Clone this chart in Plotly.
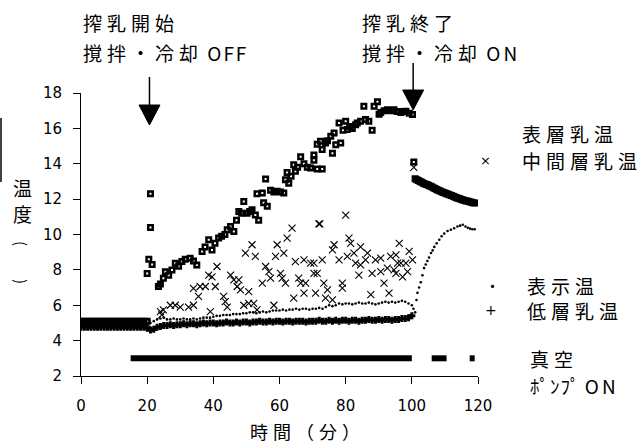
import plotly.graph_objects as go

# ---------------- data ----------------
# 表層乳温 (surface layer milk temperature)
surf_t = [0, 1, 2, 3, 4, 5, 6, 7, 8, 9, 10, 11, 12, 13, 14, 15, 16, 17, 18, 19, 20,
          20, 20.5, 21, 21, 21.5,
          23.4, 24, 24.9, 25.5, 26.5, 27.5, 28.5, 29.5, 30.5, 31.5, 33, 34, 35, 36.6, 37.5,
          38.6, 39.6, 40.5, 41.6, 42.5, 43.5, 44.2, 45.2, 46.2, 47, 47.7, 48.5, 49.2, 50.2,
          51, 51.7, 52.7, 53.7, 53.2, 54.8, 55.2, 55.8, 56.3, 57.3, 58.3, 59.3, 60.3, 61.3,
          61.8, 62.3, 62.8, 63.5, 64.3, 64.8, 65.5, 66.4, 67.4, 68.4, 69.4, 70.4, 70.4, 71.4,
          71.4, 72.4, 72.9, 72.9, 73.9, 74.5, 75.5, 76, 76.5, 77, 78, 78.5, 79.2, 80, 80.5,
          81.2, 82, 83, 83.5, 84.5, 85.5, 86, 87, 88, 88.6, 89.6, 90.1, 90.6, 91.6, 92.6,
          93.6, 94.6, 95.6, 96.7, 97.5, 98.2, 99.2, 100.2,
          100.6, 101, 101.5, 102, 102.5, 103, 103.5, 104, 104.5, 105, 105.5, 106, 106.5,
          107, 107.5, 108, 108.5, 109, 109.5, 110, 110.5, 111, 111.5, 112, 112.5, 113,
          113.5, 114, 114.5, 115, 115.5, 116, 116.5, 117, 117.5, 118, 118.5, 119]
surf_v = [5.1, 5.1, 5.1, 5.1, 5.1, 5.1, 5.1, 5.1, 5.1, 5.1, 5.1, 5.1, 5.1, 5.1, 5.1, 5.1, 5.1, 5.1, 5.1, 5.1, 5.1,
          7.8, 8.6, 10.4, 12.3, 8.3,
          7.06, 7.2, 7.53, 7.9, 7.7, 8.0, 8.38, 8.2, 8.47, 8.6, 8.66, 8.5, 8.28, 9.04, 9.3,
          9.7, 9.13, 9.5, 9.8, 9.9, 10.0, 10.27, 10.45, 10.17, 10.8, 11.3, 11.2, 11.87, 11.2,
          11.3, 11.4, 11.1, 10.8, 12.3, 12.35, 11.8, 13.14, 11.6, 12.5, 12.4, 12.44, 12.4, 12.35,
          13.1, 13.5, 12.9, 13.3, 13.95, 13.57, 13.8, 14.4, 14.0, 13.8, 13.76, 14.2, 14.5, 13.7,
          15.1, 15.27, 13.7, 14.8, 15.17, 15.3, 15.55, 14.6, 15.74, 15.08, 16.3, 15.17, 15.9, 16.4, 15.93,
          16.1, 16.0, 16.2, 16.3, 16.4, 17.25, 16.5, 16.4, 15.9, 17.25, 17.5, 16.8, 16.9, 17.0, 17.06,
          17.0, 17.06, 16.95, 16.9, 16.95, 16.97, 16.85, 16.78,
          14.1, 13.15, 13.1, 13.05, 13.0, 12.95, 12.9, 12.85, 12.82, 12.78, 12.74, 12.7, 12.65,
          12.6, 12.55, 12.5, 12.46, 12.42, 12.38, 12.35, 12.31, 12.28, 12.24, 12.2, 12.16, 12.12,
          12.08, 12.05, 12.02, 11.98, 11.95, 11.92, 11.9, 11.88, 11.85, 11.82, 11.8, 11.78]

# 中間層乳温 (middle layer milk temperature)
mid_t = [0, 1, 2, 3, 4, 5, 6, 7, 8, 9, 10, 11, 12, 13, 14, 15, 16, 17, 18, 19, 20,
         24, 24.4, 24.9, 27, 28.5, 30, 32.5, 34, 34, 35.5, 36, 37.6, 38.6, 39.6, 41.1, 40.6,
         43.1, 43.6, 44.2, 39.1, 45.2, 46.2, 47.7, 47.2, 48.2, 49.7, 50.7, 51.7, 52.7, 49.2,
         50.7, 52.2, 53.2, 54.8, 55.8, 56.8, 57.3, 59.3, 58.8, 60.3, 60.8, 61.3, 62.3, 61.8,
         58.3, 63.8, 64.8, 67.4, 69.4, 70.4, 72.9, 72.2, 70.4, 71.4, 65.8, 66.4, 67.9, 64.3,
         67.4, 70.9, 73.4, 74.5, 73.9, 76, 76.5, 76, 78, 79, 79, 80, 81, 81.5, 80.5, 82.5,
         84.5, 83, 84.5, 86, 86.6, 84, 87.6, 89, 90.6, 90.6, 88, 91.6, 92.6, 93.1, 93.6,
         95.2, 94.6, 96.2, 96.7, 97.2, 98.2, 98.7, 99.2, 100.2, 95.7, 95.2, 71.9, 100.6]
mid_v = [4.95, 4.95, 4.95, 4.95, 4.95, 4.95, 4.95, 4.95, 4.95, 4.95, 4.95, 4.95, 4.95, 4.95, 4.95, 4.95, 4.95, 4.95, 4.95, 4.95, 4.95,
         5.64, 5.45, 5.74, 6.0, 6.0, 5.9, 5.9, 6.0, 6.96, 6.5, 7.06, 7.06, 7.7, 7.6, 8.19, 7.06,
         6.5, 6.2, 5.9, 5.64, 7.7, 7.43, 7.43, 7.06, 6.87, 8.95, 6.77, 9.42, 8.76, 6.0,
         6.1, 6.1, 5.74, 7.25, 8.19, 7.9, 7.53, 9.42, 8.76, 7.8, 7.53, 8.95, 9.8, 7.25,
         6.0, 10.36, 8.47, 8.57, 8.38, 8.38, 8.57, 10.6, 7.8, 7.8, 7.53, 7.25, 7.25, 6.4,
         6.68, 6.68, 7.25, 6.87, 6.4, 6.3, 9.42, 9.13, 8.57, 7.25, 6.97, 11.1, 9.8, 9.5, 8.76, 8.95,
         9.3, 8.38, 8.28, 8.57, 8.95, 7.7, 6.6, 8.57, 8.66, 7.9, 7.8, 7.25, 8.1, 6.68, 8.76,
         8.85, 8.0, 9.5, 8.38, 7.6, 8.38, 7.9, 9.04, 8.57, 8.38, 7.8, 10.6, 13.8]

# 表示温 (displayed temperature)
disp_t = [0, 1, 2, 3, 4, 5, 6, 7, 8, 9, 10, 11, 12, 13, 14, 15, 16, 17, 18, 19,
          20, 21, 22, 23, 24, 25, 26, 27, 28, 29, 30, 31, 32, 33, 34, 35, 36, 37, 38, 39,
          40, 41, 42, 43, 44, 45, 46, 47, 48, 49, 50, 51, 52, 53, 54, 55, 56, 57, 58, 59,
          60, 61, 62, 63, 64, 65, 66, 67, 68, 69, 70, 71, 72, 73, 74, 75, 76, 77, 78, 79,
          80, 81, 82, 83, 84, 85, 86, 87, 88, 89, 90, 91, 92, 93, 94, 95, 96, 97, 98, 99,
          100, 100.5, 101, 101.4, 101.7, 102.2, 102.7, 103.2, 103.7, 104.2, 104.7, 105.2, 105.8,
          106.3, 106.8, 107.5, 108.3, 109, 109.8, 110.8, 111.8, 112.8, 113.8, 114.6, 115.4,
          116.2, 116.9, 117.6, 118.3, 119]
disp_v = [5.0, 5.0, 5.0, 5.0, 5.0, 5.0, 5.0, 5.0, 5.0, 5.0, 5.0, 5.0, 5.0, 5.0, 5.0, 5.0, 5.0, 5.0, 5.0, 5.0,
          5.0, 5.0, 5.1, 5.2, 5.25, 5.3, 5.2, 5.2, 5.25, 5.2, 5.2, 5.25, 5.2, 5.2, 5.25, 5.2, 5.25, 5.3, 5.3, 5.3,
          5.35, 5.4, 5.4, 5.45, 5.45, 5.45, 5.5, 5.5, 5.5, 5.55, 5.55, 5.6, 5.6, 5.55, 5.6, 5.65, 5.6, 5.65, 5.7, 5.7,
          5.7, 5.75, 5.7, 5.75, 5.75, 5.8, 5.75, 5.8, 5.8, 5.75, 5.8, 5.8, 5.85, 5.8, 5.9, 6.0, 5.95, 6.0, 6.1, 6.05,
          6.1, 6.1, 6.05, 6.1, 6.15, 6.1, 6.1, 6.15, 6.1, 6.05, 6.1, 6.15, 6.2, 6.15, 6.2, 6.15, 6.2, 6.25, 6.2, 6.1,
          6.0, 5.8, 5.6, 6.3, 6.7, 7.0, 7.3, 7.7, 8.1, 8.3, 8.5, 8.7, 8.95,
          9.1, 9.3, 9.5, 9.7, 9.9, 10.05, 10.2, 10.27, 10.35, 10.45, 10.5, 10.55,
          10.45, 10.38, 10.33, 10.3, 10.3]

# 低層乳温 (low layer milk temperature)
low_t = [0, 1, 2, 3, 4, 5, 6, 7, 8, 9, 10, 11, 12, 13, 14, 15, 16, 17, 18, 19,
         20, 21, 22, 23, 24, 25, 26, 27, 28, 29, 30, 31, 32, 33, 34, 35, 36, 37, 38, 39,
         40, 41, 42, 43, 44, 45, 46, 47, 48, 49, 50, 51, 52, 53, 54, 55, 56, 57, 58, 59,
         60, 61, 62, 63, 64, 65, 66, 67, 68, 69, 70, 71, 72, 73, 74, 75, 76, 77, 78, 79,
         80, 81, 82, 83, 84, 85, 86, 87, 88, 89, 90, 91, 92, 93, 94, 95, 96, 97, 98, 99, 100]
low_v = [4.75, 4.75, 4.75, 4.75, 4.75, 4.75, 4.75, 4.75, 4.75, 4.75, 4.75, 4.75, 4.75, 4.75, 4.75, 4.75, 4.75, 4.75, 4.75, 4.75,
         4.7, 4.6, 4.65, 4.75, 4.8, 4.85, 4.85, 4.9, 4.85, 4.9, 4.9, 4.95, 4.9, 4.95, 4.95, 4.9, 4.95, 5.0, 4.95, 5.0,
         5.0, 4.95, 5.0, 5.0, 5.05, 5.0, 5.0, 5.05, 5.0, 5.05, 5.05, 5.0, 5.05, 5.05, 5.1, 5.05, 5.05, 5.1, 5.05, 5.1,
         5.1, 5.05, 5.1, 5.1, 5.05, 5.1, 5.1, 5.1, 5.05, 5.1, 5.1, 5.1, 5.15, 5.1, 5.1, 5.15, 5.1, 5.15, 5.1, 5.15,
         5.15, 5.1, 5.15, 5.15, 5.1, 5.15, 5.15, 5.2, 5.15, 5.15, 5.2, 5.15, 5.2, 5.2, 5.15, 5.2, 5.2, 5.25, 5.25, 5.3, 5.4]

# 真空ポンプ ON periods (start, end in minutes), drawn at level 3
pump_start = [15, 106, 117.5]
pump_end = [100, 110.5, 119]
pump_level = 3

# event arrows (minutes)
event_t = [20.7, 100.4]

X_RANGE = [0, 120]
Y_RANGE = [2, 18]

# ---------------- figure ----------------
CJK = "Noto Sans CJK JP"

pump_x, pump_y = [], []
for s, e in zip(pump_start, pump_end):
    pump_x += [s, e, None]
    pump_y += [pump_level, pump_level, None]

fig = go.Figure()
fig.add_trace(go.Scatter(x=pump_x, y=pump_y, mode="lines",
                         line=dict(color="black", width=6), hoverinfo="skip"))
fig.add_trace(go.Scatter(x=low_t, y=low_v, mode="markers",
                         marker=dict(symbol="cross-thin", size=5, color="black",
                                     line=dict(color="black", width=3))))
fig.add_trace(go.Scatter(x=disp_t, y=disp_v, mode="markers",
                         marker=dict(symbol="circle", size=2.6, color="black",
                                     line=dict(width=0))))
fig.add_trace(go.Scatter(x=mid_t, y=mid_v, mode="markers",
                         marker=dict(symbol="x-thin", size=7, color="black",
                                     line=dict(color="black", width=1.1))))
fig.add_trace(go.Scatter(x=surf_t, y=surf_v, mode="markers",
                         marker=dict(symbol="square-open", size=4.5, color="black",
                                     line=dict(color="black", width=2.5))))

# geometry helpers (pixel -> paper) for text placements
L, R, T, B, W, H = 81, 163, 93, 67, 641, 443
PW, PH = W - L - R, H - T - B


def px(xp):
    return (xp - L) / PW


def py(yp):
    return (H - B - yp) / PH


def ann(text, x, y, xanchor="left", size=19, family=CJK, angle=0):
    fig.add_annotation(text=text, x=px(x), y=py(y), xref="paper", yref="paper",
                       xanchor=xanchor, yanchor="middle", showarrow=False,
                       textangle=angle,
                       font=dict(family=family, size=size, color="black"))


def ls(s, spacing=5):
    return f'<span style="letter-spacing:{spacing}px">{s}</span>'


ann(ls("搾乳開始"), 81, 22)
ann(ls("撹拌・冷却") + " " + ls("OFF", 2), 81, 52)
ann(ls("搾乳終了"), 360, 22)
ann(ls("撹拌・冷却") + " " + ls("ON", 3), 360, 52)

ann(ls("表層乳温"), 520, 133)
ann(ls("中間層乳温"), 520, 160)
ann("×", 485, 160, xanchor="center", size=13, family="DejaVu Sans")
ann("・", 492, 285, xanchor="center", size=15)
ann(ls("表示温"), 525, 285)
ann("+", 491, 310, xanchor="center", size=14, family="DejaVu Sans")
ann(ls("低層乳温"), 525, 310)
ann(ls("真空"), 528, 358)
ann(ls("ﾎﾟﾝﾌﾟ", 1) + " " + ls("ON", 3), 528, 385)

# y-axis title (vertical writing: 温度（）)
ann("温", 22, 187, xanchor="center")
ann("度", 22, 213, xanchor="center")
ann("(", 22, 243, xanchor="center", size=15, angle=90)
ann(")", 22, 281, xanchor="center", size=15, angle=90)

# x-axis title
ann(ls("時間（分）", 5), 248, 431, size=18)

# arrows
arrow_tops = [77, 63]
arrow_bases = [105, 90]
arrow_tips = [125, 110]
for t, top, base, tip in zip(event_t, arrow_tops, arrow_bases, arrow_tips):
    xp = (t - X_RANGE[0]) / (X_RANGE[1] - X_RANGE[0])
    xpix = L + xp * PW
    fig.add_shape(type="line", xref="paper", yref="paper", x0=xp, x1=xp,
                  y0=py(top), y1=py(base), line=dict(color="black", width=1.5))
    hw = 10.5
    path = (f"M {px(xpix - hw)},{py(base)} L {px(xpix + hw)},{py(base)} "
            f"L {xp},{py(tip)} Z")
    fig.add_shape(type="path", xref="paper", yref="paper", path=path,
                  fillcolor="black", line=dict(color="black", width=1))

# stray vertical line at left edge
fig.add_shape(type="line", xref="paper", yref="paper", x0=px(1), x1=px(1),
              y0=py(118), y1=py(182), line=dict(color="black", width=1.5))

axis_common = dict(showgrid=False, zeroline=False, showline=True, linecolor="black",
                   linewidth=1, ticks="outside", ticklen=7, tickwidth=1, tickcolor="black",
                   tickfont=dict(family="DejaVu Sans", size=15, color="black"), mirror=False)

fig.update_xaxes(range=X_RANGE, tickvals=[0, 20, 40, 60, 80, 100, 120],
                 ticklabelstandoff=9, **axis_common)
fig.update_yaxes(range=Y_RANGE, tickvals=[2, 4, 6, 8, 10, 12, 14, 16, 18],
                 ticklabelstandoff=8, **axis_common)

fig.update_layout(width=W, height=H, margin=dict(l=L, r=R, t=T, b=B),
                  paper_bgcolor="white", plot_bgcolor="white", showlegend=False)

fig.write_html("out.html")
